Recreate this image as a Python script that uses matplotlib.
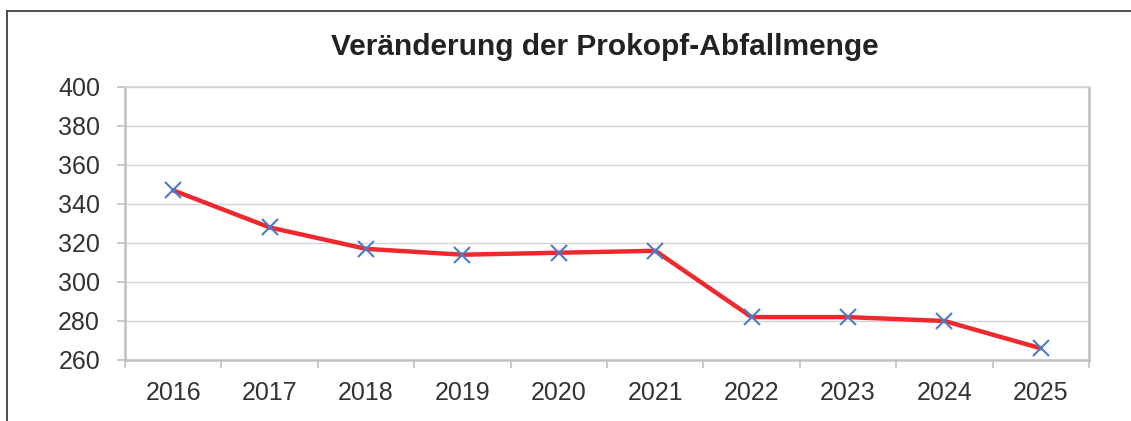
import matplotlib.pyplot as plt
from matplotlib.lines import Line2D

# data
years = ['2016', '2017', '2018', '2019', '2020', '2021', '2022', '2023', '2024', '2025']
values = [347, 328, 317, 314, 315, 316, 282, 282, 280, 266]
y_ticks = [260, 280, 300, 320, 340, 360, 380, 400]

plt.rcParams['font.family'] = ['Liberation Sans', 'DejaVu Sans']

W, H = 1131, 421
fig = plt.figure(figsize=(W / 100, H / 100), dpi=100)

# plot area in pixels: left 125, right 1089, top 87, bottom 360
ax = fig.add_axes([125 / W, 1 - 360 / H, (1089 - 125) / W, (360 - 87) / H])

x = list(range(len(years)))
ax.plot(x, values, color='#ee2a2e', lw=3.2, zorder=3, solid_capstyle='round')
ax.plot(x, values, ls='none', marker='x', ms=12, mew=1.5, color='#4a7ccc', zorder=4)

ax.set_xlim(-0.5, len(years) - 0.5)
ax.set_ylim(260, 400)
ax.set_yticks(y_ticks)
ax.set_yticklabels([str(v) for v in y_ticks])
ax.set_xticks(x)
ax.set_xticklabels(years)
ax.set_xticks([i - 0.5 for i in range(len(years) + 1)], minor=True)

grid_col = '#d4d4d4'
ax.yaxis.grid(True, color=grid_col, lw=1.0)
ax.set_axisbelow(True)
for s in ax.spines.values():
    s.set_color('#c0c0c4')
    s.set_linewidth(1.8)
ax.spines['top'].set_color(grid_col)
ax.spines['top'].set_linewidth(1.2)

ax.tick_params(axis='y', direction='out', length=6, width=1.2, color='#c0c0c4',
               pad=12, labelsize=18, labelcolor='#333333')
ax.tick_params(axis='x', which='major', length=0, pad=15, labelsize=18, labelcolor='#333333')
ax.tick_params(axis='x', which='minor', direction='out', length=6, width=1.2, color='#c0c0c4')

fig.text(605 / W, 1 - 47 / H, 'Veränderung der Prokopf-Abfallmenge',
         ha='center', va='center', fontsize=21.5, fontweight='bold', color='#222222')

# outer frame lines (top and left)
fig.add_artist(Line2D([7 / W, 1.0], [1 - 11 / H, 1 - 11 / H], color='#404040', lw=1.3,
                      transform=fig.transFigure))
fig.add_artist(Line2D([7 / W, 7 / W], [1 - 11 / H, 0.0], color='#404040', lw=1.3,
                      transform=fig.transFigure))

plt.savefig('out.png', dpi=100)
plt.close()
